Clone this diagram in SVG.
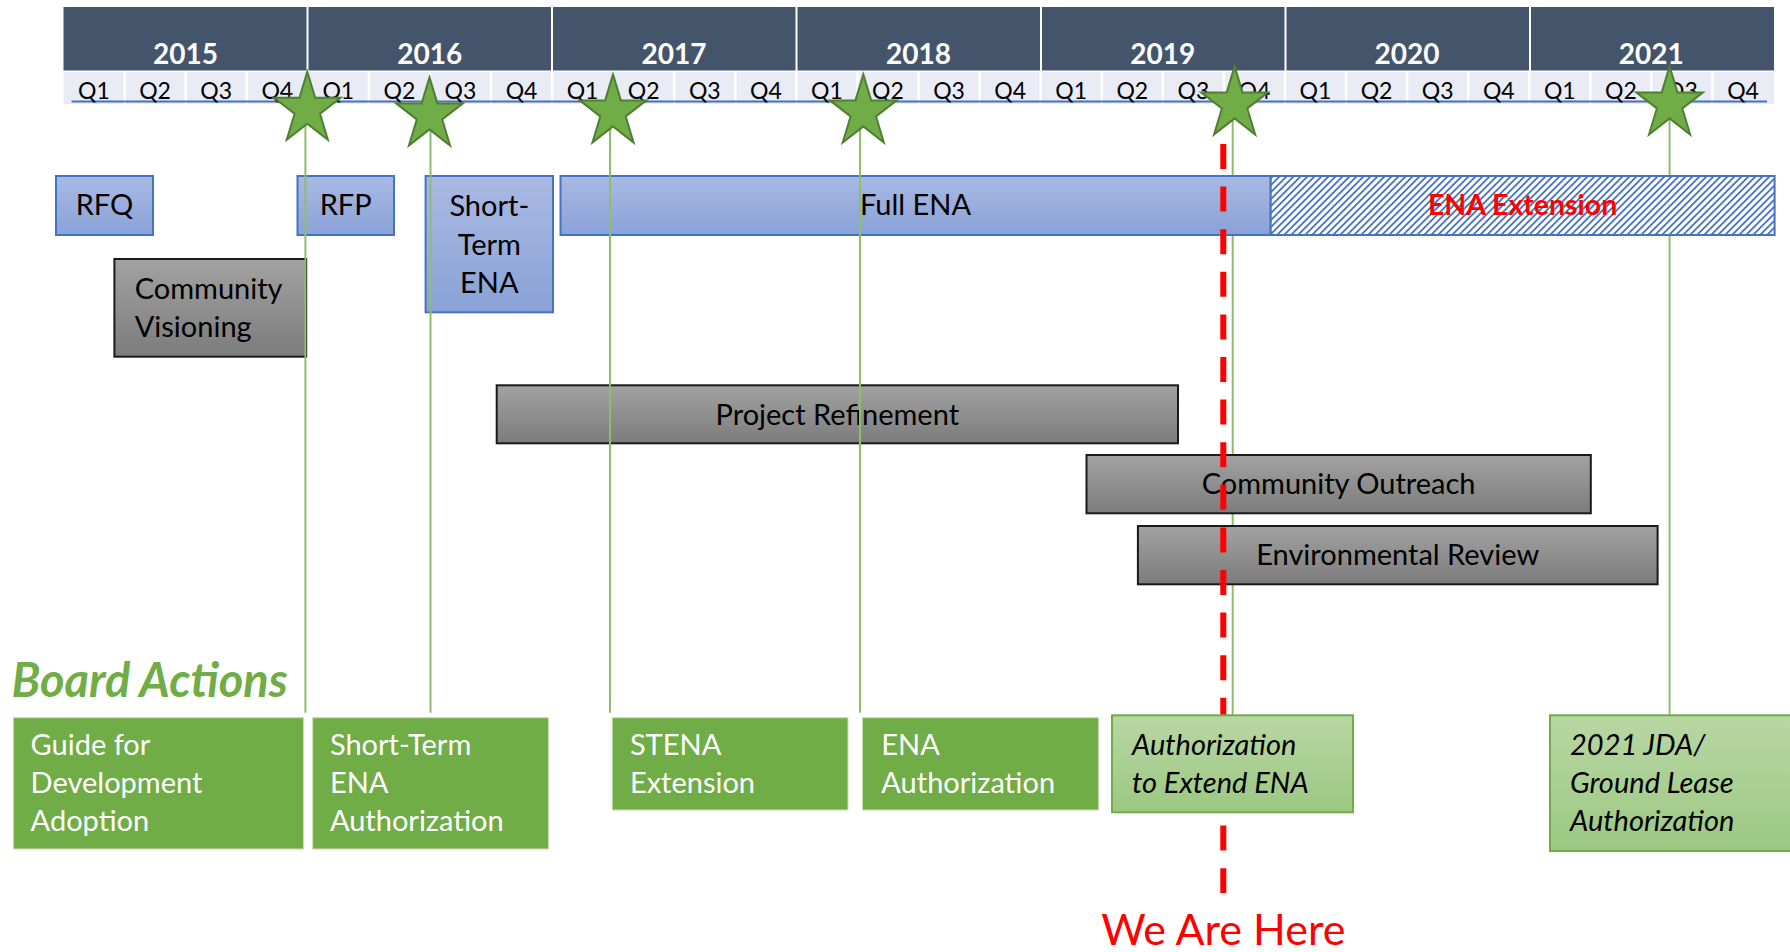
<svg xmlns="http://www.w3.org/2000/svg" xmlns:xlink="http://www.w3.org/1999/xlink" width="1790" height="952" viewBox="0 0 1790 952">
<style>
.yr{fill:#44546A}
.qc{fill:#E9EBF5}
.yt{font-family:Lato,"Liberation Sans",sans-serif;font-weight:bold;font-size:28px;fill:#fff;text-anchor:middle}
.qt{font-family:Lato,"Liberation Sans",sans-serif;font-size:23px;fill:#000;text-anchor:middle}
.blue{fill:url(#gBlue);stroke:#4472C4;stroke-width:2}
.gray{fill:url(#gGray);stroke:#1A1A1A;stroke-width:2}
.board{fill:#70AD47;stroke:#C5E0B4;stroke-width:1}
.lboard{fill:url(#gLight);stroke:#70AD47;stroke-width:2}
.t{font-family:Lato,"Liberation Sans",sans-serif;font-size:29px;fill:#000}
.c{text-anchor:middle}
.w{fill:#fff}
.it{font-style:italic}
.conn{stroke:#8CBF6A;stroke-width:2;fill:none}
.star{fill:#70AD47;stroke:#507E32;stroke-width:2;stroke-linejoin:miter}
</style>
<defs>
<linearGradient id="gBlue" x1="0" y1="0" x2="0" y2="1"><stop offset="0" stop-color="#A9B9E3"/><stop offset="1" stop-color="#8AA2D8"/></linearGradient>
<linearGradient id="gGray" x1="0" y1="0" x2="0" y2="1"><stop offset="0" stop-color="#A2A2A2"/><stop offset="1" stop-color="#7C7C7C"/></linearGradient>
<linearGradient id="gLight" x1="0" y1="0" x2="0" y2="1"><stop offset="0" stop-color="#B8D7A4"/><stop offset="1" stop-color="#9CC882"/></linearGradient>
<pattern id="hatch" patternUnits="userSpaceOnUse" width="7" height="7">
<rect width="7" height="7" fill="#fff"/>
<path d="M-2,2 L2,-2 M0,7 L7,0 M5,9 L9,5" stroke="#4472C4" stroke-width="1.8"/>
</pattern>
<path id="star" d="M0,-37.6 L7.86,-11.62 L33.29,-11.62 L12.72,4.44 L20.57,30.42 L0,14.36 L-20.57,30.42 L-12.72,4.44 L-33.29,-11.62 L-7.86,-11.62 Z"/>
</defs>
<rect width="1790" height="952" fill="#fff"/>

<g id="timeline-header">
<rect class="yr" x="63.5" y="7" width="243" height="63.5"/>
<rect class="yr" x="308.5" y="7" width="242.5" height="63.5"/>
<rect class="yr" x="553" y="7" width="242.5" height="63.5"/>
<rect class="yr" x="797.5" y="7" width="242.5" height="63.5"/>
<rect class="yr" x="1042" y="7" width="242.5" height="63.5"/>
<rect class="yr" x="1286.5" y="7" width="242.5" height="63.5"/>
<rect class="yr" x="1531" y="7" width="243" height="63.5"/>
<text class="yt" x="185.5" y="63.5">2015</text>
<text class="yt" x="429.8" y="63.5">2016</text>
<text class="yt" x="674.1" y="63.5">2017</text>
<text class="yt" x="918.4" y="63.5">2018</text>
<text class="yt" x="1162.7" y="63.5">2019</text>
<text class="yt" x="1407" y="63.5">2020</text>
<text class="yt" x="1651.3" y="63.5">2021</text>
<g id="quarters">
<rect class="qc" x="63.5" y="72" width="1710.5" height="32"/>
<path d="M124.6,72V104M185.6,72V104M246.7,72V104M307.8,72V104M368.9,72V104M429.9,72V104M491,72V104M552.1,72V104M613.2,72V104M674.2,72V104M735.3,72V104M796.4,72V104M857.5,72V104M918.5,72V104M979.6,72V104M1040.7,72V104M1101.8,72V104M1162.8,72V104M1223.9,72V104M1285,72V104M1346.1,72V104M1407.1,72V104M1468.2,72V104M1529.3,72V104M1590.4,72V104M1651.4,72V104M1712.5,72V104" stroke="#fff" stroke-width="2.5"/>
<line x1="71.5" y1="101.5" x2="1767" y2="101.5" stroke="#4472C4" stroke-width="2"/>
<g class="qt">
<text x="94" y="98.5">Q1</text><text x="155.1" y="98.5">Q2</text><text x="216.2" y="98.5">Q3</text><text x="277.3" y="98.5">Q4</text>
<text x="338.3" y="98.5">Q1</text><text x="399.4" y="98.5">Q2</text><text x="460.5" y="98.5">Q3</text><text x="521.6" y="98.5">Q4</text>
<text x="582.6" y="98.5">Q1</text><text x="643.7" y="98.5">Q2</text><text x="704.8" y="98.5">Q3</text><text x="765.9" y="98.5">Q4</text>
<text x="826.9" y="98.5">Q1</text><text x="888" y="98.5">Q2</text><text x="949.1" y="98.5">Q3</text><text x="1010.2" y="98.5">Q4</text>
<text x="1071.2" y="98.5">Q1</text><text x="1132.3" y="98.5">Q2</text><text x="1193.4" y="98.5">Q3</text><text x="1254.5" y="98.5">Q4</text>
<text x="1315.5" y="98.5">Q1</text><text x="1376.6" y="98.5">Q2</text><text x="1437.7" y="98.5">Q3</text><text x="1498.8" y="98.5">Q4</text>
<text x="1559.8" y="98.5">Q1</text><text x="1620.9" y="98.5">Q2</text><text x="1682" y="98.5">Q3</text><text x="1743.1" y="98.5">Q4</text>
</g>
</g>
</g>

<g id="connectors-under">
<line class="conn" x1="1232.7" y1="104" x2="1232.7" y2="715"/>
<line class="conn" x1="1669.6" y1="104" x2="1669.6" y2="715"/>
</g>

<g id="node-rfq"><rect class="blue" x="56" y="176" width="97" height="59"/><text class="t c" x="104.5" y="215">RFQ</text></g>
<g id="node-rfp"><rect class="blue" x="297.5" y="176" width="96.5" height="59"/><text class="t c" x="345.7" y="215">RFP</text></g>
<g id="node-short-term-ena"><rect class="blue" x="425.6" y="176" width="127.4" height="136.3"/>
<text class="t c" x="489.3" y="216">Short-</text><text class="t c" x="489.3" y="255">Term</text><text class="t c" x="489.3" y="293">ENA</text></g>
<g id="node-full-ena"><rect class="blue" x="560.5" y="176" width="710.2" height="59"/><text class="t c" x="915.6" y="215">Full ENA</text></g>
<g id="node-ena-extension"><rect x="1270.7" y="176" width="503.9" height="59" fill="url(#hatch)" stroke="#4472C4" stroke-width="2"/>
<text x="1522.6" y="215" font-family="Lato, 'Liberation Sans', sans-serif" font-weight="bold" font-size="28.5" fill="#FF0000" text-anchor="middle">ENA Extension</text></g>
<g id="node-community-visioning"><rect class="gray" x="114.4" y="259" width="191.8" height="97.7"/>
<text class="t" x="134.7" y="299.3">Community</text><text class="t" x="134.7" y="336.7">Visioning</text></g>
<g id="node-project-refinement"><rect class="gray" x="496.7" y="385.3" width="681.3" height="58"/><text class="t c" x="837.3" y="425">Project Refinement</text></g>
<g id="node-community-outreach"><rect class="gray" x="1086.5" y="455" width="504.3" height="58.3"/><text class="t c" x="1338.6" y="494">Community Outreach</text></g>
<g id="node-environmental-review"><rect class="gray" x="1137.9" y="526" width="519.7" height="58.3"/><text class="t c" x="1397.7" y="565">Environmental Review</text></g>

<g id="we-are-here">
<line x1="1223.3" y1="144" x2="1223.3" y2="893" stroke="#FF0000" stroke-width="6" stroke-dasharray="25 17.6"/>
<text x="1223.3" y="945" font-family="Lato, 'Liberation Sans', sans-serif" font-size="43" fill="#FF0000" text-anchor="middle">We Are Here</text>
</g>

<text id="board-actions-title" x="11.4" y="696.7" font-family="Lato, 'Liberation Sans', sans-serif" font-weight="bold" font-style="italic" font-size="47" fill="#70AD47">Board Actions</text>

<g id="node-guide"><rect class="board" x="13.4" y="717.7" width="290.1" height="131.3"/>
<text class="t w" x="30.6" y="755">Guide for</text><text class="t w" x="30.6" y="792.7">Development</text><text class="t w" x="30.6" y="831">Adoption</text></g>
<g id="node-st-ena-auth"><rect class="board" x="312.7" y="717.7" width="235.7" height="131.3"/>
<text class="t w" x="329.9" y="755">Short-Term</text><text class="t w" x="329.9" y="792.7">ENA</text><text class="t w" x="329.9" y="831">Authorization</text></g>
<g id="node-stena-ext"><rect class="board" x="612.2" y="717.7" width="235.8" height="92.3"/>
<text class="t w" x="629.9" y="755">STENA</text><text class="t w" x="629.9" y="792.7">Extension</text></g>
<g id="node-ena-auth"><rect class="board" x="862.5" y="717.7" width="236.1" height="92.3"/>
<text class="t w" x="881.3" y="755">ENA</text><text class="t w" x="881.3" y="792.7">Authorization</text></g>
<g id="node-auth-extend"><rect class="lboard" x="1112" y="715.3" width="241" height="97"/>
<text class="t it" x="1132" y="755">Authorization</text><text class="t it" x="1132" y="792.7">to Extend ENA</text></g>
<g id="node-jda"><rect class="lboard" x="1550" y="715.3" width="245" height="135.7"/>
<text class="t it" x="1570" y="755">2021 JDA/</text><text class="t it" x="1570" y="792.7">Ground Lease</text><text class="t it" x="1570" y="831">Authorization</text></g>

<g id="connectors">
<line class="conn" x1="305.4" y1="109" x2="305.4" y2="712.7"/>
<line class="conn" x1="430.5" y1="115" x2="430.5" y2="712.7"/>
<line class="conn" x1="610" y1="112" x2="610" y2="712.7"/>
<line class="conn" x1="860" y1="112" x2="860" y2="712.7"/>
</g>

<g id="stars">
<use xlink:href="#star" class="star" x="307.3" y="109.3"/>
<use xlink:href="#star" class="star" x="429.5" y="115"/>
<use xlink:href="#star" class="star" x="613" y="112"/>
<use xlink:href="#star" class="star" x="863.3" y="112"/>
<use xlink:href="#star" class="star" x="1234.6" y="104"/>
<use xlink:href="#star" class="star" x="1669.6" y="104"/>
</g>
</svg>
